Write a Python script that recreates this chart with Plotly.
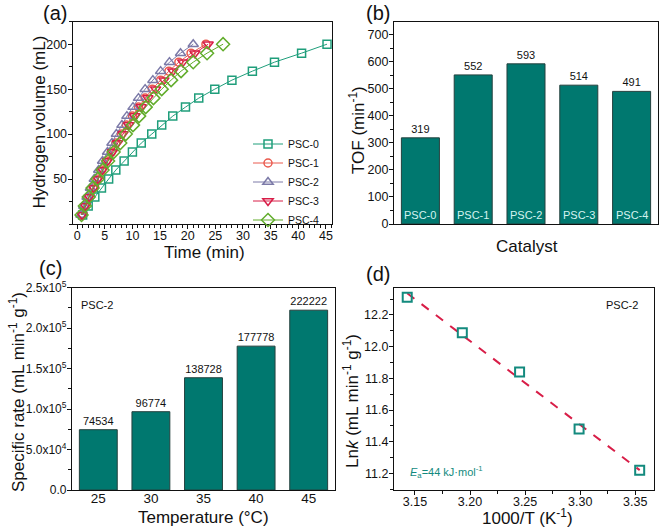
import numpy as np
import plotly.graph_objects as go

# ---------------- data ----------------
volume = [10, 20, 30, 40, 50, 60, 70, 80, 90, 100, 110, 120, 130, 140, 150, 160, 170, 180, 190, 200]
t_psc0 = [1.0, 2.0, 3.2, 4.4, 5.7, 7.0, 8.5, 10.0, 11.6, 13.5, 15.3, 17.3, 19.6, 22.0, 24.9, 28.0, 31.7, 35.7, 40.6, 45.2]
t_psc1 = [0.8, 1.4, 2.1, 2.9, 3.6, 4.4, 5.3, 6.2, 7.0, 8.0, 8.9, 10.0, 11.1, 12.3, 13.6, 15.1, 16.6, 18.4, 20.6, 23.3]
t_psc2 = [0.7, 1.2, 1.8, 2.4, 3.1, 3.9, 4.6, 5.5, 6.3, 7.1, 8.1, 9.0, 10.1, 11.1, 12.3, 13.7, 15.1, 16.7, 18.7, 21.0]
t_psc3 = [0.9, 1.5, 2.2, 3.0, 3.8, 4.6, 5.5, 6.4, 7.3, 8.3, 9.3, 10.4, 11.6, 12.8, 14.2, 15.7, 17.3, 19.1, 21.3, 23.7]
t_psc4 = [0.8, 1.4, 2.1, 2.8, 3.7, 4.6, 5.6, 6.6, 7.8, 8.8, 10.1, 11.2, 12.4, 13.8, 15.3, 17.0, 18.8, 21.0, 23.5, 26.4]

catalysts = ["PSC-0", "PSC-1", "PSC-2", "PSC-3", "PSC-4"]
tof = [319, 552, 593, 514, 491]

temps = ["25", "30", "35", "40", "45"]
spec_rate = [74534, 96774, 138728, 177778, 222222]

inv_T = [3.354, 3.299, 3.245, 3.193, 3.143]
ln_k = [11.219, 11.480, 11.840, 12.088, 12.311]

rate_ticks = [0, 50000, 100000, 150000, 200000, 250000]
rate_ticktext = ["0.0", "5.0x10<sup>4</sup>", "1.0x10<sup>5</sup>", "1.5x10<sup>5</sup>",
                 "2.0x10<sup>5</sup>", "2.5x10<sup>5</sup>"]

# ---------------- styling ----------------
FONT = "Arial, Liberation Sans, sans-serif"
W, H = 661, 529
BAR = "#00786f"
BAR_EDGE = "#24403e"
series_style = [
    ("PSC-0", t_psc0, "#1f9e7b", "square-open", 8),
    ("PSC-1", t_psc1, "#ea5a4e", "circle-open", 8),
    ("PSC-2", t_psc2, "#7c7aa8", "triangle-up-open", 9),
    ("PSC-3", t_psc3, "#d81e48", "triangle-down-open", 9),
    ("PSC-4", t_psc4, "#62ad2c", "diamond-open", 10),
]

def px_x(x):
    return x / W

def px_y(y):
    return 1 - y / H

fig = go.Figure()

# (a) hydrogen volume curves
for name, tt, col, sym, sz in series_style:
    fig.add_trace(go.Scatter(
        x=tt, y=volume, name=name, mode="lines+markers",
        line=dict(color=col, width=1),
        marker=dict(symbol=sym, size=sz, color=col, line=dict(width=1.5, color=col)),
        xaxis="x", yaxis="y", showlegend=True))

# (b) TOF bars
fig.add_trace(go.Bar(
    x=list(range(len(catalysts))), y=tof, width=0.72,
    marker=dict(color=BAR, line=dict(color=BAR_EDGE, width=1)),
    text=[str(v) for v in tof], textposition="outside",
    textfont=dict(family=FONT, size=11, color="#111"), cliponaxis=False,
    xaxis="x2", yaxis="y2", showlegend=False))

# (c) specific rate bars
fig.add_trace(go.Bar(
    x=list(range(len(temps))), y=spec_rate, width=0.72,
    marker=dict(color=BAR, line=dict(color=BAR_EDGE, width=1)),
    text=[str(v) for v in spec_rate], textposition="outside",
    textfont=dict(family=FONT, size=11, color="#111"), cliponaxis=False,
    xaxis="x3", yaxis="y3", showlegend=False))

# (d) Arrhenius plot
coef = np.polyfit(inv_T, ln_k, 1)
fit_x = np.array([min(inv_T), max(inv_T)])
fig.add_trace(go.Scatter(
    x=fit_x, y=np.polyval(coef, fit_x), mode="lines",
    line=dict(color="#d81e48", width=2, dash="dash"),
    xaxis="x4", yaxis="y4", showlegend=False))
fig.add_trace(go.Scatter(
    x=inv_T, y=ln_k, mode="markers",
    marker=dict(symbol="square-open", size=9, color="#138a7e", line=dict(width=2, color="#138a7e")),
    xaxis="x4", yaxis="y4", showlegend=False))

tickfont = dict(family=FONT, size=12.5, color="#111")
minor_t = dict(ticklen=2.5, ticks="outside", tickcolor="#111")
base_axis = dict(showline=True, linecolor="#111", linewidth=1.3, mirror=True,
                 ticks="outside", ticklen=4, tickwidth=1.2, tickcolor="#111",
                 showgrid=False, zeroline=False, tickfont=tickfont, automargin=False)
xaxis_base = dict(base_axis, ticklabelstandoff=-4)
yaxis_base = dict(base_axis, ticklabelstandoff=-2)

dom_ab = [px_y(224), px_y(21.7)]
dom_cd = [px_y(490), px_y(287.7)]

fig.update_layout(
    template="none",
    width=W, height=H, margin=dict(l=0, r=0, t=0, b=0), autosize=False,
    paper_bgcolor="white", plot_bgcolor="white",
    font=dict(family=FONT, color="#111"),
    bargap=0.3,
    xaxis=dict(xaxis_base, domain=[px_x(72.7), px_x(332)], range=[-0.8, 46.1],
               tickvals=[0, 5, 10, 15, 20, 25, 30, 35, 40, 45],
               minor=dict(minor_t, dtick=1), anchor="y"),
    yaxis=dict(yaxis_base, domain=dom_ab, range=[0, 225], tickvals=[50, 100, 150, 200],
               minor=dict(minor_t, dtick=25), anchor="x"),
    xaxis2=dict(xaxis_base, domain=[px_x(394), px_x(658)], range=[-0.5, 4.5],
                ticks="", showticklabels=False, anchor="y2"),
    yaxis2=dict(yaxis_base, domain=dom_ab, range=[0, 749], dtick=100, tick0=0,
                minor=dict(minor_t, dtick=50), anchor="x2"),
    xaxis3=dict(xaxis_base, domain=[px_x(72), px_x(335)], range=[-0.5, 4.5],
                tickvals=list(range(len(temps))), ticktext=temps, ticks="",
                tickfont=dict(family=FONT, size=13.5, color="#111"), anchor="y3"),
    yaxis3=dict(yaxis_base, domain=dom_cd, range=[0, 250000], tickvals=rate_ticks,
                ticktext=rate_ticktext, tickfont=dict(family=FONT, size=12, color="#111"),
                minor=dict(minor_t, dtick=25000), anchor="x3"),
    xaxis4=dict(xaxis_base, domain=[px_x(394), px_x(654)], range=[3.131, 3.367],
                tickvals=[3.15, 3.20, 3.25, 3.30, 3.35], tickformat=".2f",
                minor=dict(minor_t, dtick=0.025, tick0=3.125), anchor="y4"),
    yaxis4=dict(yaxis_base, domain=dom_cd, range=[11.095, 12.372],
                tickvals=[11.2, 11.4, 11.6, 11.8, 12.0, 12.2], tickformat=".1f",
                minor=dict(minor_t, dtick=0.1, tick0=11.1), anchor="x4"),
    legend=dict(x=px_x(248), y=px_y(182), xanchor="left", yanchor="middle",
                bgcolor="rgba(0,0,0,0)", font=dict(family=FONT, size=10.5, color="#111"),
                tracegroupgap=0, itemwidth=30),
)

ann = []

def label(text, x, y, size, **kw):
    d = dict(text=text, x=px_x(x), y=px_y(y), xref="paper", yref="paper",
             xanchor="center", yanchor="middle",
             showarrow=False, font=dict(family=FONT, size=size, color=kw.pop("color", "#111")))
    d.update(kw)
    ann.append(d)

# panel labels
label("(a)", 55, 13, 20)
label("(b)", 378, 13, 20)
label("(c)", 50, 268, 20)
label("(d)", 378, 274, 20)

# axis titles
label("Hydrogen volume (mL)", 39, 122.5, 17, textangle=-90)
label("TOF (min<sup>-1</sup>)", 357, 130, 17, textangle=-90)
label("Time (min)", 205, 252, 17)
label("Catalyst", 527, 246, 17)
label("Specific rate (mL min<sup>-1</sup> g<sup>-1</sup>)", 17, 392, 17, textangle=-90)
label("Temperature (°C)", 203, 517, 17)
label("Ln<i>k</i> (mL min<sup>-1</sup> g<sup>-1</sup>)", 351, 401, 17, textangle=-90)
label("1000/T (K<sup>-1</sup>)", 527, 517, 17)

# inner notes
label("PSC-2", 97, 305, 11)
label("PSC-2", 622, 305, 11)
label("<i>E</i><sub>a</sub>=44 kJ·mol<sup>-1</sup>", 408, 472, 11, color="#138a7e", xanchor="left")

# catalyst names at bar bases
for i, name in enumerate(catalysts):
    ann.append(dict(text=name, x=i, y=0, xref="x2", yref="y2", xanchor="center",
                    yanchor="bottom", yshift=1,
                    showarrow=False, font=dict(family=FONT, size=11, color="#d4f3f0")))

fig.update_layout(annotations=ann)
fig.write_html("out.html", config={"displayModeBar": False},
               post_script="document.body.style.margin='0px';")
